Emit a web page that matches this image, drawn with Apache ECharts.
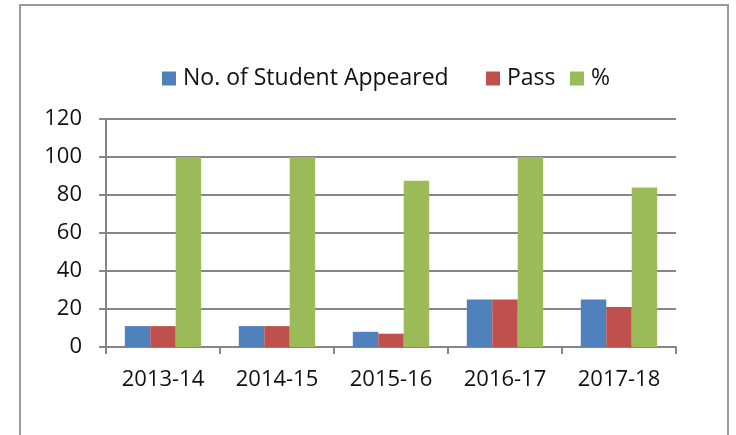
<!DOCTYPE html>
<html>
<head>
<meta charset="utf-8">
<script src="https://cdn.jsdelivr.net/npm/echarts@6/dist/echarts.min.js"></script>
<style>
    html, body {margin: 0; padding: 0; background: #fff;}
    #chart {width: 736px; height: 435px;}
</style>
</head>
<body>
<div id="chart"></div>
<script>
    // 数据
    var years = ['2013-14', '2014-15', '2015-16', '2016-17', '2017-18'];
    var appeared = [11, 11, 8, 25, 25];
    var passed = [11, 11, 7, 25, 21];
    var percent = [100, 100, 87.5, 100, 84];
    var yTicks = [0, 20, 40, 60, 80, 100, 120];

    var font = '"Open Sans", Lato, sans-serif';
    var gray = '#868686';

    var chart = echarts.init(document.getElementById('chart'));

    function legendAt(name, left) {
        return {
            data: [name], left: left, top: 62,
            itemWidth: 14, itemHeight: 14, itemGap: 0,
            icon: 'rect',
            textStyle: {fontFamily: font, fontSize: 23, color: '#111', padding: [0, 0, 0, 2]}
        };
    }

    var option = {
        animation: false,
        color: ['#4F81BD', '#C0504D', '#9BBB59'],
        graphic: [{
            type: 'rect',
            shape: {x: 20, y: 5, width: 708, height: 460},
            style: {fill: null, stroke: '#9a9a9a', lineWidth: 2}
        }],
        legend: [
            legendAt('No. of Student Appeared', 157),
            legendAt('Pass', 481),
            legendAt('%', 565)
        ],
        grid: {left: 106, right: 60, top: 119, bottom: 88},
        xAxis: {
            type: 'category',
            data: years,
            axisLine: {lineStyle: {color: gray, width: 2}},
            axisTick: {show: true, length: 7, lineStyle: {color: gray, width: 2}},
            axisLabel: {fontFamily: font, fontSize: 22, color: '#111', margin: 22}
        },
        yAxis: {
            type: 'value',
            min: yTicks[0], max: yTicks[yTicks.length - 1], interval: 20,
            axisLine: {show: true, lineStyle: {color: gray, width: 2}},
            axisTick: {show: true, length: 7, lineStyle: {color: gray, width: 2}},
            splitLine: {lineStyle: {color: gray, width: 2}},
            axisLabel: {fontFamily: font, fontSize: 22, color: '#111', margin: 24}
        },
        series: [
            {name: 'No. of Student Appeared', type: 'bar', data: appeared, barGap: 0, barCategoryGap: '33%'},
            {name: 'Pass', type: 'bar', data: passed, barGap: 0, barCategoryGap: '33%'},
            {name: '%', type: 'bar', data: percent, barGap: 0, barCategoryGap: '33%'}
        ]
    };
    chart.setOption(option);
</script>
</body>
</html>
